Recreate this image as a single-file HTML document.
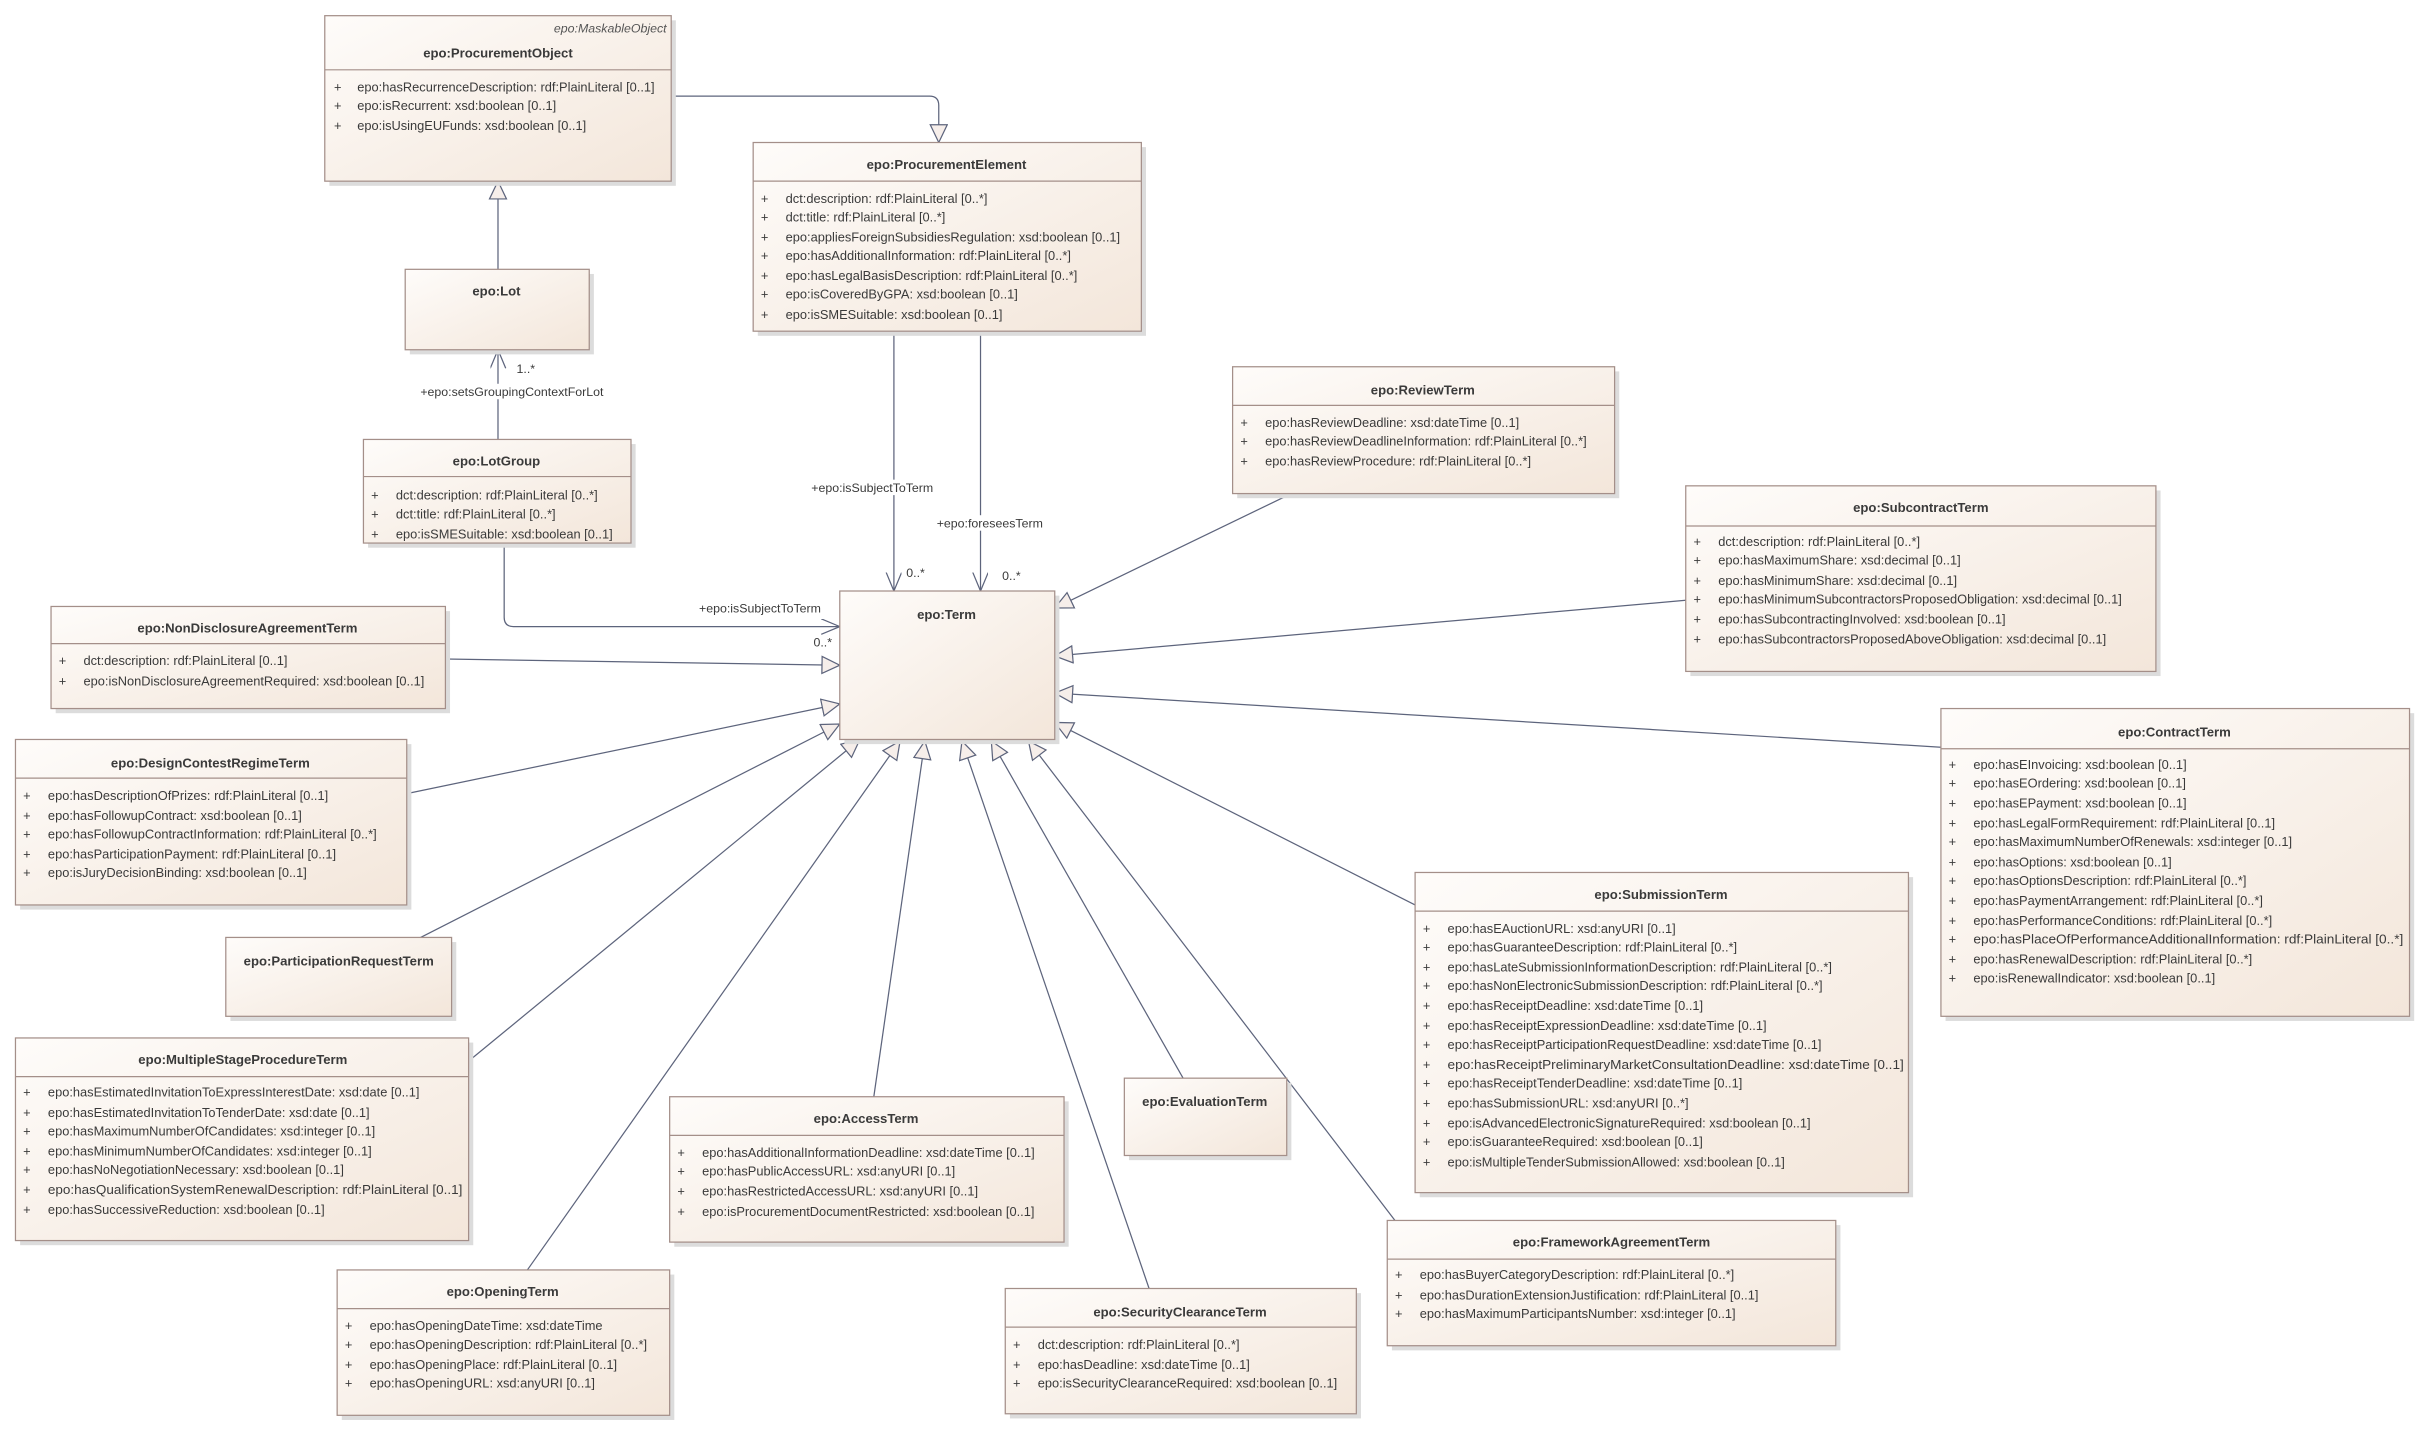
<!DOCTYPE html>
<html><head><meta charset="utf-8"><style>
html,body{margin:0;padding:0;background:#fff;}
svg{display:block;}
text{font-family:"Liberation Sans",sans-serif;fill:#3a3a3a;}
.t{font-weight:bold;font-size:8.5px;text-anchor:middle;}
.a{font-size:8.3px;}
.l{font-size:8px;}
.bx{fill:url(#g);stroke:#a48f89;stroke-width:0.8;}
.sh{fill:#dcdcdc;}
.dv{stroke:#a48f89;stroke-width:0.8;}
.c{stroke:#5d647c;stroke-width:0.8;fill:none;}
</style></head><body>
<svg width="2425" height="1431" viewBox="0 0 1568 925" xmlns="http://www.w3.org/2000/svg">
<defs>
<linearGradient id="g" x1="0" y1="0" x2="1" y2="1"><stop offset="0" stop-color="#fefcfa"/><stop offset="1" stop-color="#f3e6da"/></linearGradient>
<marker id="tri" markerUnits="userSpaceOnUse" markerWidth="14" markerHeight="14" refX="12" refY="6" orient="auto"><path d="M0.5,0.5 L12,6 L0.5,11.5 z" fill="#f6eeea" stroke="#5d647c" stroke-width="0.8"/></marker>
<marker id="arr" markerUnits="userSpaceOnUse" markerWidth="14" markerHeight="14" refX="12" refY="5" orient="auto"><path d="M0,0 L12,5 L0,10" fill="none" stroke="#5d647c" stroke-width="0.8"/></marker>
</defs>
<rect width="1568" height="925" fill="#fff"/>

<!-- connectors -->
<path class="c" d="M434,62 L601,62 Q607,62 607,68 L607,92" marker-end="url(#tri)"/>
<path class="c" d="M322,174 L322,117" marker-end="url(#tri)"/>
<path class="c" d="M322,284 L322,226" marker-end="url(#arr)"/>
<path class="c" d="M326,351 L326,399 Q326,405 332,405 L543,405" marker-end="url(#arr)"/>
<path class="c" d="M578,214 L578,382" marker-end="url(#arr)"/>
<path class="c" d="M634,214 L634,382" marker-end="url(#arr)"/>
<path class="c" d="M835,319 L682,393" marker-end="url(#tri)"/>
<path class="c" d="M1090,388 L682,424" marker-end="url(#tri)"/>
<path class="c" d="M1255,483 L682,448" marker-end="url(#tri)"/>
<path class="c" d="M915,585 L682,467" marker-end="url(#tri)"/>
<path class="c" d="M288,426 L543,430" marker-end="url(#tri)"/>
<path class="c" d="M263,513 L543,455" marker-end="url(#tri)"/>
<path class="c" d="M272,606 L543,468" marker-end="url(#tri)"/>
<path class="c" d="M303,686 L556,478" marker-end="url(#tri)"/>
<path class="c" d="M341,821 L582,479" marker-end="url(#tri)"/>
<path class="c" d="M565,709 L598,479" marker-end="url(#tri)"/>
<path class="c" d="M743,833 L622,479" marker-end="url(#tri)"/>
<path class="c" d="M765,697 L641,479" marker-end="url(#tri)"/>
<path class="c" d="M902,789 L665,479" marker-end="url(#tri)"/>

<!-- connector labels -->
<text class="l" x="334" y="241">1..*</text>
<rect x="262" y="248" width="140" height="10" fill="#fff"/>
<text class="l" x="331" y="256" text-anchor="middle">+epo:setsGroupingContextForLot</text>
<rect x="518" y="310" width="94" height="10" fill="#fff"/>
<text class="l" x="564" y="318" text-anchor="middle">+epo:isSubjectToTerm</text>
<rect x="598" y="333" width="84" height="10" fill="#fff"/>
<text class="l" x="640" y="341" text-anchor="middle">+epo:foreseesTerm</text>
<text class="l" x="586" y="373">0..*</text>
<text class="l" x="648" y="375">0..*</text>
<text class="l" x="452" y="396">+epo:isSubjectToTerm</text>
<text class="l" x="526" y="418">0..*</text>

<!-- ProcurementObject -->
<rect class="sh" x="213" y="13" width="224" height="107"/>
<rect class="bx" x="210" y="10" width="224" height="107"/>
<text x="431" y="21" style="font-size:8px;font-style:italic;text-anchor:end;fill:#555">epo:MaskableObject</text>
<text class="t" x="322" y="37">epo:ProcurementObject</text>
<line class="dv" x1="210" y1="45" x2="434" y2="45"/>
<g class="a"><text x="216" y="59">+</text><text x="231" y="59">epo:hasRecurrenceDescription: rdf:PlainLiteral [0..1]</text>
<text x="216" y="71">+</text><text x="231" y="71">epo:isRecurrent: xsd:boolean [0..1]</text>
<text x="216" y="84">+</text><text x="231" y="84">epo:isUsingEUFunds: xsd:boolean [0..1]</text></g>

<!-- ProcurementElement -->
<rect class="sh" x="490" y="95" width="251" height="122"/>
<rect class="bx" x="487" y="92" width="251" height="122"/>
<text class="t" x="612" y="109">epo:ProcurementElement</text>
<line class="dv" x1="487" y1="117" x2="738" y2="117"/>
<g class="a">
<text x="492" y="131">+</text><text x="508" y="131">dct:description: rdf:PlainLiteral [0..*]</text>
<text x="492" y="143">+</text><text x="508" y="143">dct:title: rdf:PlainLiteral [0..*]</text>
<text x="492" y="156">+</text><text x="508" y="156">epo:appliesForeignSubsidiesRegulation: xsd:boolean [0..1]</text>
<text x="492" y="168">+</text><text x="508" y="168">epo:hasAdditionalInformation: rdf:PlainLiteral [0..*]</text>
<text x="492" y="181">+</text><text x="508" y="181">epo:hasLegalBasisDescription: rdf:PlainLiteral [0..*]</text>
<text x="492" y="193">+</text><text x="508" y="193">epo:isCoveredByGPA: xsd:boolean [0..1]</text>
<text x="492" y="206">+</text><text x="508" y="206">epo:isSMESuitable: xsd:boolean [0..1]</text></g>

<!-- Lot -->
<rect class="sh" x="265" y="177" width="119" height="52"/>
<rect class="bx" x="262" y="174" width="119" height="52"/>
<text class="t" x="321" y="191">epo:Lot</text>

<!-- LotGroup -->
<rect class="sh" x="238" y="287" width="173" height="67"/>
<rect class="bx" x="235" y="284" width="173" height="67"/>
<text class="t" x="321" y="301">epo:LotGroup</text>
<line class="dv" x1="235" y1="308" x2="408" y2="308"/>
<g class="a">
<text x="240" y="323">+</text><text x="256" y="323">dct:description: rdf:PlainLiteral [0..*]</text>
<text x="240" y="335">+</text><text x="256" y="335">dct:title: rdf:PlainLiteral [0..*]</text>
<text x="240" y="348">+</text><text x="256" y="348">epo:isSMESuitable: xsd:boolean [0..1]</text></g>

<!-- ReviewTerm -->
<rect class="sh" x="800" y="240" width="247" height="82"/>
<rect class="bx" x="797" y="237" width="247" height="82"/>
<text class="t" x="920" y="255">epo:ReviewTerm</text>
<line class="dv" x1="797" y1="262" x2="1044" y2="262"/>
<g class="a">
<text x="802" y="276">+</text><text x="818" y="276">epo:hasReviewDeadline: xsd:dateTime [0..1]</text>
<text x="802" y="288">+</text><text x="818" y="288">epo:hasReviewDeadlineInformation: rdf:PlainLiteral [0..*]</text>
<text x="802" y="301">+</text><text x="818" y="301">epo:hasReviewProcedure: rdf:PlainLiteral [0..*]</text></g>

<!-- SubcontractTerm -->
<rect class="sh" x="1093" y="317" width="304" height="120"/>
<rect class="bx" x="1090" y="314" width="304" height="120"/>
<text class="t" x="1242" y="331">epo:SubcontractTerm</text>
<line class="dv" x1="1090" y1="340" x2="1394" y2="340"/>
<g class="a">
<text x="1095" y="353">+</text><text x="1111" y="353">dct:description: rdf:PlainLiteral [0..*]</text>
<text x="1095" y="365">+</text><text x="1111" y="365">epo:hasMaximumShare: xsd:decimal [0..1]</text>
<text x="1095" y="378">+</text><text x="1111" y="378">epo:hasMinimumShare: xsd:decimal [0..1]</text>
<text x="1095" y="390">+</text><text x="1111" y="390">epo:hasMinimumSubcontractorsProposedObligation: xsd:decimal [0..1]</text>
<text x="1095" y="403">+</text><text x="1111" y="403">epo:hasSubcontractingInvolved: xsd:boolean [0..1]</text>
<text x="1095" y="416">+</text><text x="1111" y="416">epo:hasSubcontractorsProposedAboveObligation: xsd:decimal [0..1]</text></g>

<!-- NonDisclosure -->
<rect class="sh" x="36" y="395" width="255" height="66"/>
<rect class="bx" x="33" y="392" width="255" height="66"/>
<text class="t" x="160" y="409">epo:NonDisclosureAgreementTerm</text>
<line class="dv" x1="33" y1="416" x2="288" y2="416"/>
<g class="a">
<text x="38" y="430">+</text><text x="54" y="430">dct:description: rdf:PlainLiteral [0..1]</text>
<text x="38" y="443">+</text><text x="54" y="443">epo:isNonDisclosureAgreementRequired: xsd:boolean [0..1]</text></g>

<!-- Term -->
<rect class="sh" x="546" y="385" width="139" height="96"/>
<rect class="bx" x="543" y="382" width="139" height="96"/>
<text class="t" x="612" y="400">epo:Term</text>

<!-- DesignContest -->
<rect class="sh" x="13" y="481" width="253" height="107"/>
<rect class="bx" x="10" y="478" width="253" height="107"/>
<text class="t" x="136" y="496">epo:DesignContestRegimeTerm</text>
<line class="dv" x1="10" y1="503" x2="263" y2="503"/>
<g class="a">
<text x="15" y="517">+</text><text x="31" y="517">epo:hasDescriptionOfPrizes: rdf:PlainLiteral [0..1]</text>
<text x="15" y="530">+</text><text x="31" y="530">epo:hasFollowupContract: xsd:boolean [0..1]</text>
<text x="15" y="542">+</text><text x="31" y="542">epo:hasFollowupContractInformation: rdf:PlainLiteral [0..*]</text>
<text x="15" y="555">+</text><text x="31" y="555">epo:hasParticipationPayment: rdf:PlainLiteral [0..1]</text>
<text x="15" y="567">+</text><text x="31" y="567">epo:isJuryDecisionBinding: xsd:boolean [0..1]</text></g>

<!-- ContractTerm -->
<rect class="sh" x="1258" y="461" width="303" height="199"/>
<rect class="bx" x="1255" y="458" width="303" height="199"/>
<text class="t" x="1406" y="476">epo:ContractTerm</text>
<line class="dv" x1="1255" y1="484" x2="1558" y2="484"/>
<g class="a">
<text x="1260" y="497">+</text><text x="1276" y="497">epo:hasEInvoicing: xsd:boolean [0..1]</text>
<text x="1260" y="509">+</text><text x="1276" y="509">epo:hasEOrdering: xsd:boolean [0..1]</text>
<text x="1260" y="522">+</text><text x="1276" y="522">epo:hasEPayment: xsd:boolean [0..1]</text>
<text x="1260" y="535">+</text><text x="1276" y="535">epo:hasLegalFormRequirement: rdf:PlainLiteral [0..1]</text>
<text x="1260" y="547">+</text><text x="1276" y="547">epo:hasMaximumNumberOfRenewals: xsd:integer [0..1]</text>
<text x="1260" y="560">+</text><text x="1276" y="560">epo:hasOptions: xsd:boolean [0..1]</text>
<text x="1260" y="572">+</text><text x="1276" y="572">epo:hasOptionsDescription: rdf:PlainLiteral [0..*]</text>
<text x="1260" y="585">+</text><text x="1276" y="585">epo:hasPaymentArrangement: rdf:PlainLiteral [0..*]</text>
<text x="1260" y="598">+</text><text x="1276" y="598">epo:hasPerformanceConditions: rdf:PlainLiteral [0..*]</text>
<text x="1260" y="610">+</text><text x="1276" y="610" textLength="278" lengthAdjust="spacingAndGlyphs">epo:hasPlaceOfPerformanceAdditionalInformation: rdf:PlainLiteral [0..*]</text>
<text x="1260" y="623">+</text><text x="1276" y="623">epo:hasRenewalDescription: rdf:PlainLiteral [0..*]</text>
<text x="1260" y="635">+</text><text x="1276" y="635">epo:isRenewalIndicator: xsd:boolean [0..1]</text></g>

<!-- ParticipationRequest -->
<rect class="sh" x="149" y="609" width="146" height="51"/>
<rect class="bx" x="146" y="606" width="146" height="51"/>
<text class="t" x="219" y="624">epo:ParticipationRequestTerm</text>

<!-- SubmissionTerm -->
<rect class="sh" x="918" y="567" width="319" height="207"/>
<rect class="bx" x="915" y="564" width="319" height="207"/>
<text class="t" x="1074" y="581">epo:SubmissionTerm</text>
<line class="dv" x1="915" y1="589" x2="1234" y2="589"/>
<g class="a">
<text x="920" y="603">+</text><text x="936" y="603">epo:hasEAuctionURL: xsd:anyURI [0..1]</text>
<text x="920" y="615">+</text><text x="936" y="615">epo:hasGuaranteeDescription: rdf:PlainLiteral [0..*]</text>
<text x="920" y="628">+</text><text x="936" y="628">epo:hasLateSubmissionInformationDescription: rdf:PlainLiteral [0..*]</text>
<text x="920" y="640">+</text><text x="936" y="640">epo:hasNonElectronicSubmissionDescription: rdf:PlainLiteral [0..*]</text>
<text x="920" y="653">+</text><text x="936" y="653">epo:hasReceiptDeadline: xsd:dateTime [0..1]</text>
<text x="920" y="666">+</text><text x="936" y="666">epo:hasReceiptExpressionDeadline: xsd:dateTime [0..1]</text>
<text x="920" y="678">+</text><text x="936" y="678">epo:hasReceiptParticipationRequestDeadline: xsd:dateTime [0..1]</text>
<text x="920" y="691">+</text><text x="936" y="691" textLength="295" lengthAdjust="spacingAndGlyphs">epo:hasReceiptPreliminaryMarketConsultationDeadline: xsd:dateTime [0..1]</text>
<text x="920" y="703">+</text><text x="936" y="703">epo:hasReceiptTenderDeadline: xsd:dateTime [0..1]</text>
<text x="920" y="716">+</text><text x="936" y="716">epo:hasSubmissionURL: xsd:anyURI [0..*]</text>
<text x="920" y="729">+</text><text x="936" y="729">epo:isAdvancedElectronicSignatureRequired: xsd:boolean [0..1]</text>
<text x="920" y="741">+</text><text x="936" y="741">epo:isGuaranteeRequired: xsd:boolean [0..1]</text>
<text x="920" y="754">+</text><text x="936" y="754">epo:isMultipleTenderSubmissionAllowed: xsd:boolean [0..1]</text></g>

<!-- MultipleStage -->
<rect class="sh" x="13" y="674" width="293" height="131"/>
<rect class="bx" x="10" y="671" width="293" height="131"/>
<text class="t" x="157" y="688">epo:MultipleStageProcedureTerm</text>
<line class="dv" x1="10" y1="696" x2="303" y2="696"/>
<g class="a">
<text x="15" y="709">+</text><text x="31" y="709">epo:hasEstimatedInvitationToExpressInterestDate: xsd:date [0..1]</text>
<text x="15" y="722">+</text><text x="31" y="722">epo:hasEstimatedInvitationToTenderDate: xsd:date [0..1]</text>
<text x="15" y="734">+</text><text x="31" y="734">epo:hasMaximumNumberOfCandidates: xsd:integer [0..1]</text>
<text x="15" y="747">+</text><text x="31" y="747">epo:hasMinimumNumberOfCandidates: xsd:integer [0..1]</text>
<text x="15" y="759">+</text><text x="31" y="759">epo:hasNoNegotiationNecessary: xsd:boolean [0..1]</text>
<text x="15" y="772">+</text><text x="31" y="772" textLength="268" lengthAdjust="spacingAndGlyphs">epo:hasQualificationSystemRenewalDescription: rdf:PlainLiteral [0..1]</text>
<text x="15" y="785">+</text><text x="31" y="785">epo:hasSuccessiveReduction: xsd:boolean [0..1]</text></g>

<!-- AccessTerm -->
<rect class="sh" x="436" y="712" width="255" height="94"/>
<rect class="bx" x="433" y="709" width="255" height="94"/>
<text class="t" x="560" y="726">epo:AccessTerm</text>
<line class="dv" x1="433" y1="734" x2="688" y2="734"/>
<g class="a">
<text x="438" y="748">+</text><text x="454" y="748">epo:hasAdditionalInformationDeadline: xsd:dateTime [0..1]</text>
<text x="438" y="760">+</text><text x="454" y="760">epo:hasPublicAccessURL: xsd:anyURI [0..1]</text>
<text x="438" y="773">+</text><text x="454" y="773">epo:hasRestrictedAccessURL: xsd:anyURI [0..1]</text>
<text x="438" y="786">+</text><text x="454" y="786">epo:isProcurementDocumentRestricted: xsd:boolean [0..1]</text></g>

<!-- EvaluationTerm -->
<rect class="sh" x="730" y="700" width="105" height="50"/>
<rect class="bx" x="727" y="697" width="105" height="50"/>
<text class="t" x="779" y="715">epo:EvaluationTerm</text>

<!-- FrameworkAgreementTerm -->
<rect class="sh" x="900" y="792" width="290" height="81"/>
<rect class="bx" x="897" y="789" width="290" height="81"/>
<text class="t" x="1042" y="806">epo:FrameworkAgreementTerm</text>
<line class="dv" x1="897" y1="814" x2="1187" y2="814"/>
<g class="a">
<text x="902" y="827">+</text><text x="918" y="827">epo:hasBuyerCategoryDescription: rdf:PlainLiteral [0..*]</text>
<text x="902" y="840">+</text><text x="918" y="840">epo:hasDurationExtensionJustification: rdf:PlainLiteral [0..1]</text>
<text x="902" y="852">+</text><text x="918" y="852">epo:hasMaximumParticipantsNumber: xsd:integer [0..1]</text></g>

<!-- OpeningTerm -->
<rect class="sh" x="221" y="824" width="215" height="94"/>
<rect class="bx" x="218" y="821" width="215" height="94"/>
<text class="t" x="325" y="838">epo:OpeningTerm</text>
<line class="dv" x1="218" y1="846" x2="433" y2="846"/>
<g class="a">
<text x="223" y="860">+</text><text x="239" y="860">epo:hasOpeningDateTime: xsd:dateTime</text>
<text x="223" y="872">+</text><text x="239" y="872">epo:hasOpeningDescription: rdf:PlainLiteral [0..*]</text>
<text x="223" y="885">+</text><text x="239" y="885">epo:hasOpeningPlace: rdf:PlainLiteral [0..1]</text>
<text x="223" y="897">+</text><text x="239" y="897">epo:hasOpeningURL: xsd:anyURI [0..1]</text></g>

<!-- SecurityClearance -->
<rect class="sh" x="653" y="836" width="227" height="81"/>
<rect class="bx" x="650" y="833" width="227" height="81"/>
<text class="t" x="763" y="851">epo:SecurityClearanceTerm</text>
<line class="dv" x1="650" y1="858" x2="877" y2="858"/>
<g class="a">
<text x="655" y="872">+</text><text x="671" y="872">dct:description: rdf:PlainLiteral [0..*]</text>
<text x="655" y="885">+</text><text x="671" y="885">epo:hasDeadline: xsd:dateTime [0..1]</text>
<text x="655" y="897">+</text><text x="671" y="897">epo:isSecurityClearanceRequired: xsd:boolean [0..1]</text></g>
</svg>
</body></html>
